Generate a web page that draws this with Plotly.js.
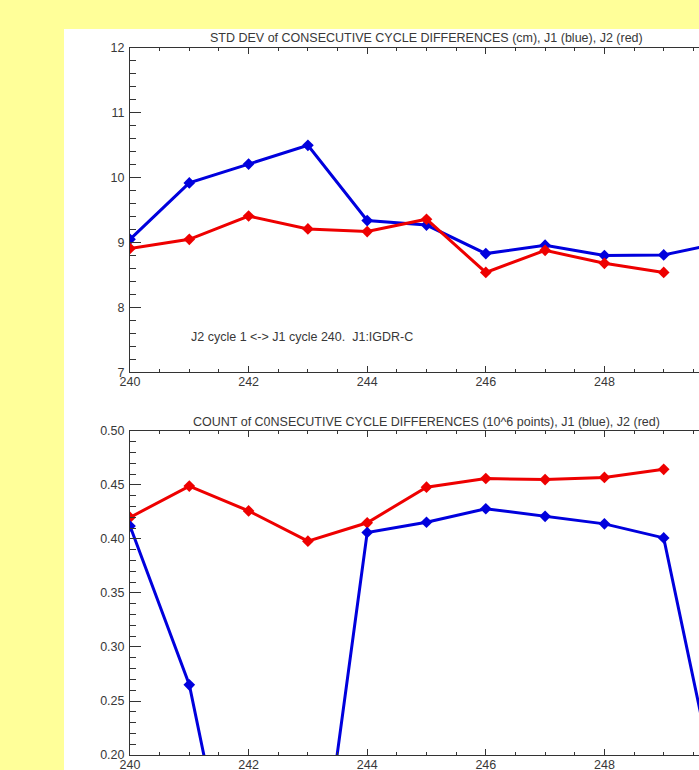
<!DOCTYPE html>
<html>
<head>
<meta charset="utf-8">
<script src="https://cdn.plot.ly/plotly-3.0.1.min.js"></script>
<style>
html, body { margin: 0; padding: 0; overflow: hidden; background: #FFFF99; width: 699px; height: 770px; }
#chart { position: absolute; left: 64px; top: 29px; width: 700px; height: 741px; }
</style>
</head>
<body>
<div id="chart"></div>
<script>
// Data
const cycles = [240, 241, 242, 243, 244, 245, 246, 247, 248, 249, 250];
const stdJ1 = [9.05, 9.92, 10.21, 10.50, 9.34, 9.27, 8.83, 8.96, 8.80, 8.81, 9.00];
const cyclesJ2 = [240, 241, 242, 243, 244, 245, 246, 247, 248, 249];
const stdJ2 = [8.91, 9.05, 9.41, 9.21, 9.17, 9.36, 8.54, 8.88, 8.68, 8.54];
const countJ1 = [0.412, 0.265, 0.0, 0.0, 0.406, 0.4155, 0.428, 0.421, 0.414, 0.401, 0.14];
const countJ2 = [0.420, 0.449, 0.426, 0.398, 0.415, 0.448, 0.456, 0.455, 0.457, 0.4645];
const xTickVals = [240, 242, 244, 246, 248];
const xTickText = ["240", "242", "244", "246", "248"];

const titleTop = "STD DEV of CONSECUTIVE CYCLE DIFFERENCES (cm), J1 (blue), J2 (red)";
const titleBottom = "COUNT of C0NSECUTIVE CYCLE DIFFERENCES (10^6 points), J1 (blue), J2 (red)";
const noteText = "J2 cycle 1 &lt;-&gt; J1 cycle 240.  J1:IGDR-C";

const BLUE = "#0000dd";
const RED = "#ee0000";
const AX = "#333333";
const FONT = { family: "Liberation Sans, Arial, sans-serif", size: 12.5, color: "#383838" };

function line(x, y, color, xa, ya) {
  return {
    x: x, y: y, xaxis: xa, yaxis: ya, type: "scatter", mode: "lines+markers",
    line: { color: color, width: 3 },
    marker: { symbol: "diamond", size: 9, color: color },
    hoverinfo: "skip", showlegend: false
  };
}

const traces = [
  line(cycles, stdJ1, BLUE, "x", "y"),
  line(cyclesJ2, stdJ2, RED, "x", "y"),
  line(cyclesJ2, countJ2, RED, "x2", "y2"),
  line(cycles, countJ1, BLUE, "x2", "y2")
];

function xax(anchor) {
  return {
    anchor: anchor, range: [240, 250], tickmode: "array", tickvals: xTickVals, ticktext: xTickText,
    ticks: "inside", ticklen: 6, tickwidth: 1, tickcolor: AX,
    minor: { dtick: 0.5, tick0: 240, ticks: "inside", ticklen: 3, tickcolor: AX, tickwidth: 1 },
    showline: true, linecolor: AX, linewidth: 1, mirror: "ticks",
    showgrid: false, zeroline: false, tickfont: FONT, fixedrange: true, ticklabelstandoff: -2
  };
}
function yax(anchor, domain, range, dtick, minor, fmt) {
  return {
    anchor: anchor, domain: domain, range: range, dtick: dtick,
    ticks: "inside", ticklen: 11, tickwidth: 1, tickcolor: AX, tickformat: fmt,
    minor: { dtick: minor, ticks: "inside", ticklen: 6, tickcolor: AX, tickwidth: 1 },
    showline: true, linecolor: AX, linewidth: 1, mirror: "ticks",
    showgrid: false, zeroline: false, tickfont: FONT, fixedrange: true, ticklabelstandoff: 2
  };
}

const layout = {
  width: 700, height: 741,
  margin: { l: 66, r: 41, t: 19, b: 15 },
  paper_bgcolor: "#ffffff", plot_bgcolor: "#ffffff",
  font: FONT,
  xaxis: xax("y"),
  yaxis: yax("x", [0.5413, 1], [7, 12], 1, 0.2, "d"),
  xaxis2: xax("y2"),
  yaxis2: yax("x2", [0, 0.4583], [0.2, 0.5], 0.05, 0.01, ".2f"),
  annotations: [
    { text: titleTop, xref: "paper", yref: "paper", x: 0.5, y: 1, xanchor: "center", yanchor: "bottom",
      yshift: 1, showarrow: false, font: FONT },
    { text: titleBottom, xref: "paper", yref: "paper", x: 0.5, y: 0.4583, xanchor: "center", yanchor: "bottom",
      yshift: 0, showarrow: false, font: FONT },
    { text: noteText, xref: "x", yref: "y", x: 241.0, y: 7.55, xanchor: "left", yanchor: "middle",
      showarrow: false, font: FONT }
  ]
};

Plotly.newPlot("chart", traces, layout, { staticPlot: true, displayModeBar: false });
</script>
</body>
</html>
